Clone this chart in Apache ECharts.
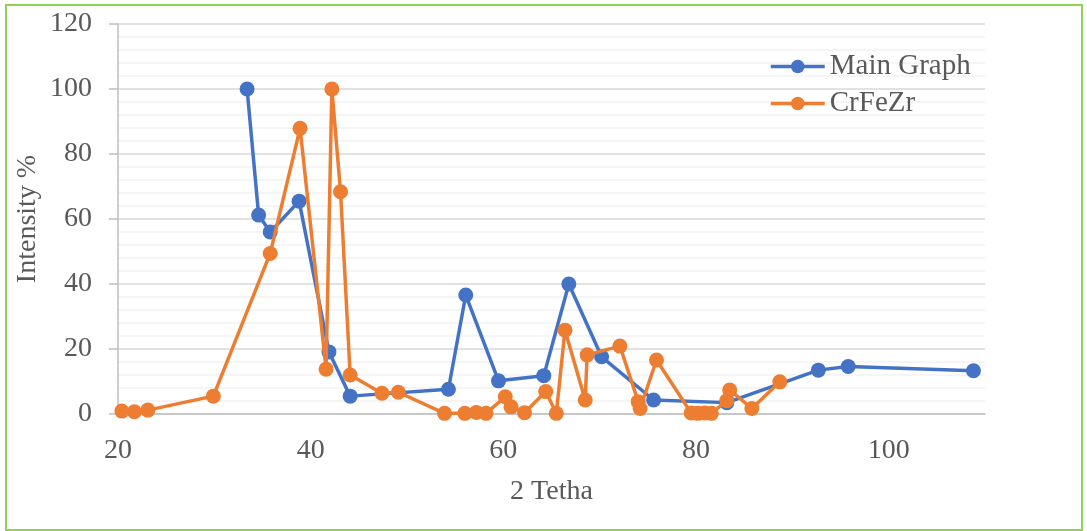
<!DOCTYPE html>
<html>
<head>
<meta charset="utf-8">
<style>
  html, body { margin: 0; padding: 0; background: #ffffff; }
  #chart { width: 1087px; height: 531px; }
</style>
<script src="https://cdn.jsdelivr.net/npm/echarts@6/dist/echarts.min.js"></script>
</head>
<body>
<div id="chart"></div>
<script>
// 2θ positions and relative intensities for each pattern
const mainX = [33.4, 34.6, 35.8, 38.8, 41.9, 44.1, 54.3, 56.1, 59.5, 64.2, 66.8, 70.2, 75.6, 83.2, 92.7, 95.8, 108.8];
const mainY = [100, 61.2, 56, 65.5, 19.1, 5.5, 7.6, 36.6, 10.2, 11.8, 40, 17.6, 4.3, 3.5, 13.5, 14.6, 13.3];

const crX = [20.4, 21.7, 23.1, 29.9, 35.8, 38.9, 41.6, 42.2, 43.1, 44.1, 47.4, 49.1, 53.9, 56.0, 57.2, 58.2,
             60.2, 60.8, 62.2, 64.4, 65.5, 66.4, 68.5, 68.7, 72.1, 74.0, 74.2, 75.9, 79.5, 80.2, 80.9, 81.6,
             83.2, 83.5, 85.8, 88.7];
const crY = [0.9, 0.7, 1.2, 5.5, 49.4, 87.9, 13.8, 100, 68.4, 12, 6.4, 6.7, 0.2, 0.2, 0.5, 0.2,
             5.3, 2.2, 0.4, 6.9, 0.2, 25.8, 4.3, 18.2, 20.9, 3.8, 1.7, 16.6, 0.3, 0.2, 0.3, 0.2,
             4.1, 7.4, 1.7, 9.9];

const seriesNames = ['Main Graph', 'CrFeZr'];
const xTitle = '2 Tetha';
const yTitle = 'Intensity %';

const zip = (xs, ys) => xs.map((x, i) => [x, ys[i]]);

const FONT = 'Liberation Serif';
const TEXT = '#595959';

const chart = echarts.init(document.getElementById('chart'), null, { renderer: 'canvas' });

chart.setOption({
  animation: false,
  backgroundColor: '#ffffff',
  graphic: [{
    type: 'rect',
    silent: true,
    shape: { x: 6, y: 5, width: 1076, height: 525 },
    style: { fill: 'none', stroke: '#92D050', lineWidth: 2 }
  }],
  grid: { left: 118, right: 102, top: 24, bottom: 117, containLabel: false, outerBoundsMode: 'none' },
  legend: {
    left: 764,
    top: 47,
    orient: 'vertical',
    itemWidth: 54,
    itemHeight: 17,
    itemGap: 8,
    lineStyle: { width: 3.5 },
    textStyle: { fontFamily: FONT, fontSize: 29, color: TEXT, lineHeight: 29 },
    data: seriesNames.map(n => ({ name: n }))
  },
  xAxis: {
    type: 'value',
    min: 20,
    max: 110,
    interval: 20,
    name: xTitle,
    nameLocation: 'middle',
    nameGap: 64,
    nameMoveOverlap: false,
    nameTextStyle: { fontFamily: FONT, fontSize: 28, color: TEXT },
    axisLine: { show: true, lineStyle: { color: '#bfbfbf', width: 1.5 } },
    axisTick: { show: false },
    splitLine: { show: false },
    axisLabel: { fontFamily: FONT, fontSize: 28, color: TEXT, margin: 23, showMaxLabel: false }
  },
  yAxis: {
    type: 'value',
    min: 0,
    max: 120,
    interval: 20,
    name: yTitle,
    nameLocation: 'middle',
    nameGap: 76,
    nameMoveOverlap: false,
    nameTextStyle: { fontFamily: FONT, fontSize: 28, color: TEXT },
    axisLine: { show: true, lineStyle: { color: '#bfbfbf', width: 1.5 } },
    axisTick: { show: true, length: 9, lineStyle: { color: '#bfbfbf', width: 1.5 } },
    axisLabel: { fontFamily: FONT, fontSize: 28, color: TEXT, margin: 26 },
    splitLine: { show: true, lineStyle: { color: '#d9d9d9', width: 1.5 } },
    minorTick: { show: false, splitNumber: 5 },
    minorSplitLine: { show: true, lineStyle: { color: '#f2f2f2', width: 1.5 } }
  },
  series: [
    {
      name: seriesNames[0],
      type: 'line',
      data: zip(mainX, mainY),
      symbol: 'circle',
      symbolSize: 15,
      showAllSymbol: true,
      itemStyle: { color: '#4472C4' },
      lineStyle: { color: '#4472C4', width: 3.5 },
      z: 2
    },
    {
      name: seriesNames[1],
      type: 'line',
      data: zip(crX, crY),
      symbol: 'circle',
      symbolSize: 15,
      showAllSymbol: true,
      itemStyle: { color: '#ED7D31' },
      lineStyle: { color: '#ED7D31', width: 3.5 },
      z: 3
    }
  ]
});
</script>
</body>
</html>
